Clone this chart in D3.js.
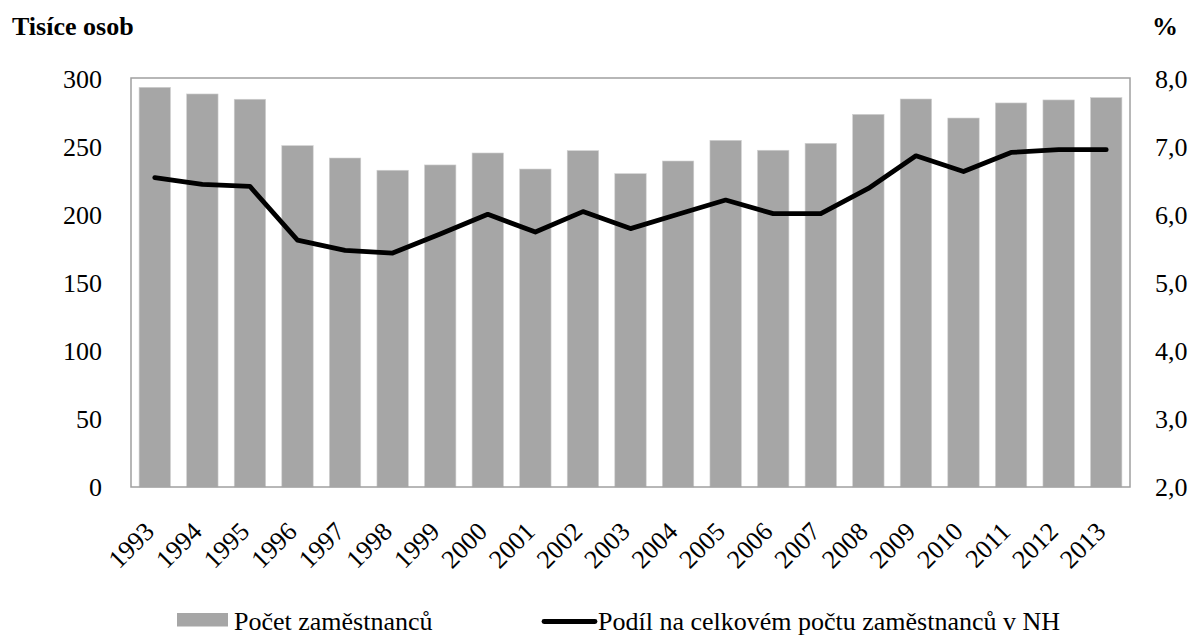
<!DOCTYPE html>
<html>
<head>
<meta charset="utf-8">
<script src="https://cdn.jsdelivr.net/npm/d3@7"></script>
</head>
<body style="margin:0; background:#fff">
<svg id="chart" width="1190" height="635"></svg>
<script>
// Years on the category axis
const years = ["1993","1994","1995","1996","1997","1998","1999","2000","2001","2002","2003",
               "2004","2005","2006","2007","2008","2009","2010","2011","2012","2013"];
// Number of employees (thousands of persons)
const employees = [293.9, 289.0, 285.1, 251.0, 241.9, 232.9, 236.8, 245.6, 233.8, 247.3, 230.4,
                   239.7, 254.9, 247.6, 252.7, 274.0, 285.3, 271.3, 282.4, 284.6, 286.3];
// Share of total employment in the national economy (%)
const share = [6.55, 6.45, 6.42, 5.63, 5.48, 5.44, 5.72, 6.01, 5.75, 6.05, 5.80,
               6.01, 6.22, 6.02, 6.02, 6.39, 6.87, 6.64, 6.92, 6.96, 6.96];
// Axis ticks
const leftTicks = [0, 50, 100, 150, 200, 250, 300];
const rightTicks = [2, 3, 4, 5, 6, 7, 8];
// Titles and legend labels
const leftTitle = "Tisíce osob";
const rightTitle = "%";
const barLabel = "Počet zaměstnanců";
const lineLabel = "Podíl na celkovém počtu zaměstnanců v NH";

const FONT = "'Liberation Serif'";
const fontSize = 26;

const svg = d3.select("#chart");
const plot = { left: 131, right: 1130, top: 78, bottom: 487 };

const x = d3.scaleBand()
  .domain(years)
  .range([plot.left, plot.right])
  .paddingInner(0.34)
  .paddingOuter(0.17);

const yL = d3.scaleLinear().domain([0, 300]).range([plot.bottom, plot.top + 1]);
const yR = d3.scaleLinear().domain([2, 8]).range([plot.bottom, plot.top + 1]);

// Bars
svg.append("g")
  .selectAll("rect")
  .data(years)
  .join("rect")
  .attr("x", d => x(d))
  .attr("width", x.bandwidth())
  .attr("y", (d, i) => yL(employees[i]))
  .attr("height", (d, i) => plot.bottom - yL(employees[i]))
  .attr("fill", "#a6a6a6")
  .attr("stroke", "#d0d0d0")
  .attr("stroke-width", 0.6);

// Plot area frame
svg.append("rect")
  .attr("x", plot.left)
  .attr("y", plot.top)
  .attr("width", plot.right - plot.left)
  .attr("height", plot.bottom - plot.top)
  .attr("fill", "none")
  .attr("stroke", "#a0a0a0")
  .attr("stroke-width", 1.5);

// Share line
const line = d3.line()
  .x((d, i) => x(years[i]) + x.bandwidth() / 2)
  .y(d => yR(d));

svg.append("path")
  .datum(share)
  .attr("d", line)
  .attr("fill", "none")
  .attr("stroke", "#000")
  .attr("stroke-width", 4.8)
  .attr("stroke-linejoin", "round")
  .attr("stroke-linecap", "round");

function styleAxisText(g) {
  g.attr("font-family", FONT).attr("font-size", fontSize);
  g.selectAll("text")
    .attr("font-family", FONT)
    .attr("font-size", fontSize)
    .attr("fill", "#000");
}

// Left axis (labels only)
const axisL = d3.axisLeft(yL).tickValues(leftTicks).tickSize(0).tickPadding(29)
  .tickFormat(d3.format("d"));
const gL = svg.append("g").attr("transform", `translate(${plot.left},0)`).call(axisL);
gL.select(".domain").remove();
styleAxisText(gL);

// Right axis (labels only), decimal comma
const fmtComma = d => d3.format(".1f")(d).replace(".", ",");
const axisR = d3.axisRight(yR).tickValues(rightTicks).tickSize(0).tickPadding(25)
  .tickFormat(fmtComma);
const gR = svg.append("g").attr("transform", `translate(${plot.right},0)`).call(axisR);
gR.select(".domain").remove();
styleAxisText(gR);

// Category axis with rotated year labels
const axisB = d3.axisBottom(x).tickSize(0).tickPadding(0);
const gB = svg.append("g").attr("transform", `translate(0,${plot.bottom})`).call(axisB);
gB.select(".domain").remove();
styleAxisText(gB);
gB.selectAll("text")
  .attr("text-anchor", "end")
  .attr("dy", null)
  .attr("y", 0)
  .attr("transform", "translate(1,46) rotate(-45)");

// Axis titles
svg.append("text")
  .attr("x", 12).attr("y", 35)
  .attr("font-family", FONT)
  .attr("font-size", fontSize)
  .attr("font-weight", "bold")
  .text(leftTitle);

svg.append("text")
  .attr("x", 1178).attr("y", 35)
  .attr("text-anchor", "end")
  .attr("font-family", FONT)
  .attr("font-size", fontSize)
  .attr("font-weight", "bold")
  .text(rightTitle);

// Legend
const legend = svg.append("g");
legend.append("rect")
  .attr("x", 177).attr("y", 613)
  .attr("width", 51).attr("height", 13.5)
  .attr("fill", "#a6a6a6");
legend.append("text")
  .attr("x", 234).attr("y", 630)
  .attr("font-family", FONT)
  .attr("font-size", fontSize)
  .text(barLabel);

legend.append("line")
  .attr("x1", 544).attr("x2", 595)
  .attr("y1", 621.5).attr("y2", 621.5)
  .attr("stroke", "#000")
  .attr("stroke-width", 4.8)
  .attr("stroke-linecap", "round");
legend.append("text")
  .attr("x", 598).attr("y", 630)
  .attr("font-family", FONT)
  .attr("font-size", fontSize)
  .text(lineLabel);
</script>
</body>
</html>
